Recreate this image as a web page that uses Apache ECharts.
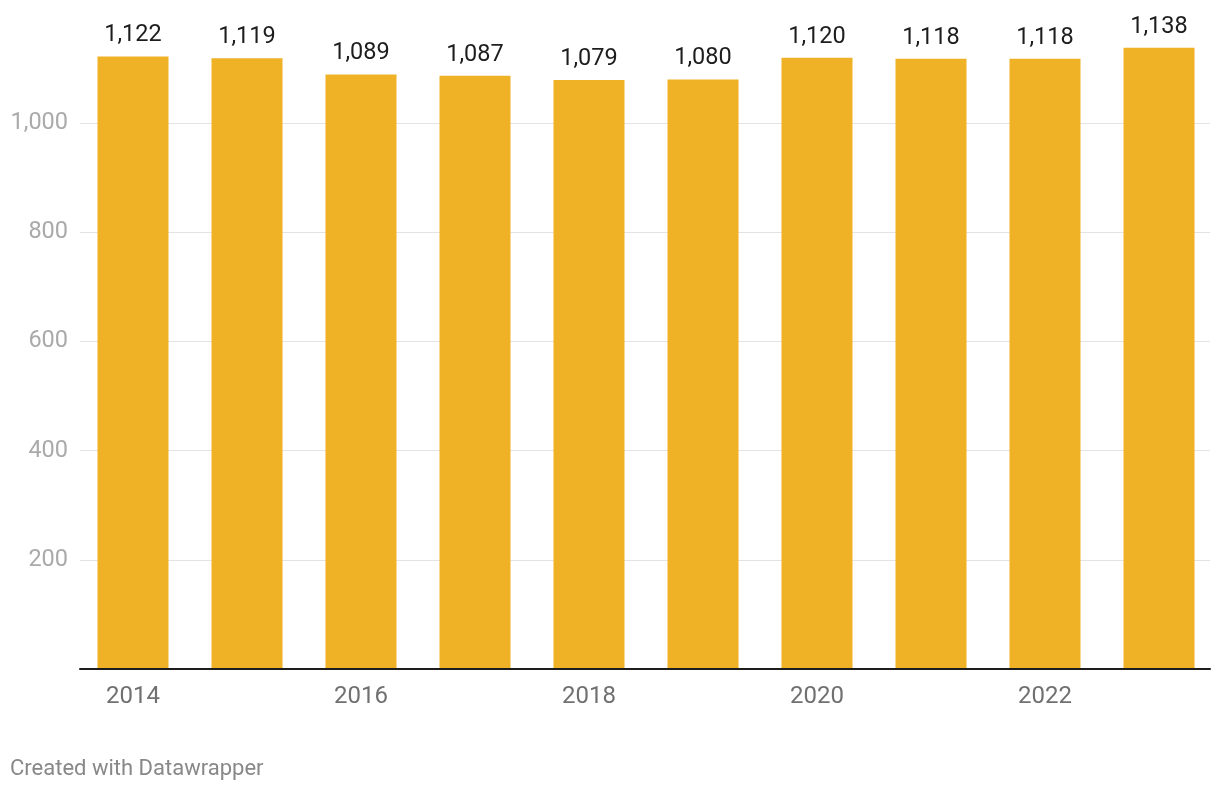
<!DOCTYPE html>
<html>
<head>
<meta charset="utf-8">
<script src="https://cdn.jsdelivr.net/npm/echarts@6/dist/echarts.min.js"></script>
<style>
html,body{margin:0;padding:0;background:#fff;}
#chart{width:1220px;height:792px;}
</style>
</head>
<body>
<div id="chart"></div>
<script>
const years = ['2014','2015','2016','2017','2018','2019','2020','2021','2022','2023'];
const values = [1122, 1119, 1089, 1087, 1079, 1080, 1120, 1118, 1118, 1138];
const yTicks = [0, 200, 400, 600, 800, 1000, 1200];
const footer = 'Created with Datawrapper';

const chart = echarts.init(document.getElementById('chart'));
const fontFamily = 'Roboto, "Noto Sans", sans-serif';
const yMax = yTicks[yTicks.length - 1];
const gridColors = yTicks.map(v => v === yMax ? 'rgba(0,0,0,0)' : '#e3e3e3');

chart.setOption({
  animation: false,
  backgroundColor: '#ffffff',
  textStyle: { fontFamily: fontFamily },
  title: {
    text: footer,
    left: 5,
    bottom: 7,
    textStyle: { fontFamily: fontFamily, fontSize: 22, fontWeight: 'normal', color: '#888888' }
  },
  grid: [
    { left: 80, right: 10, top: 14, bottom: 123 },
    { left: 76, right: 4, top: 14, bottom: 123 }
  ],
  xAxis: [
    {
      type: 'category', gridIndex: 0, data: years,
      axisLine: { show: true, lineStyle: { color: '#1d1d1d', width: 2 } },
      axisTick: { show: false },
      axisLabel: { show: false },
      z: 10
    },
    {
      type: 'category', gridIndex: 1, data: years,
      axisLine: { show: false },
      axisTick: { show: false },
      axisLabel: {
        interval: 1, margin: 16,
        color: '#707070', fontSize: 24, fontFamily: fontFamily
      }
    }
  ],
  yAxis: [
    {
      type: 'value', gridIndex: 0, min: 0, max: yMax, interval: 200,
      axisLine: { show: false },
      axisTick: { show: false },
      axisLabel: {
        margin: 12, color: '#aaaaaa', fontSize: 23.5, fontFamily: fontFamily,
        formatter: v => (v === 0 || v === yMax) ? '' : v.toLocaleString('en-US')
      },
      splitLine: { show: true, lineStyle: { color: gridColors, width: 1 } }
    },
    {
      type: 'value', gridIndex: 1, min: 0, max: yMax, interval: 200,
      show: false,
      splitLine: { show: false }
    }
  ],
  series: [
    {
      type: 'bar',
      xAxisIndex: 1, yAxisIndex: 1,
      data: values,
      barWidth: 71,
      itemStyle: { color: '#efb125' },
      label: {
        show: true, position: 'top', distance: 9,
        color: '#1d1d1d', fontSize: 23.5, fontFamily: fontFamily,
        formatter: p => p.value.toLocaleString('en-US')
      },
      z: 2
    }
  ]
});
</script>
</body>
</html>
